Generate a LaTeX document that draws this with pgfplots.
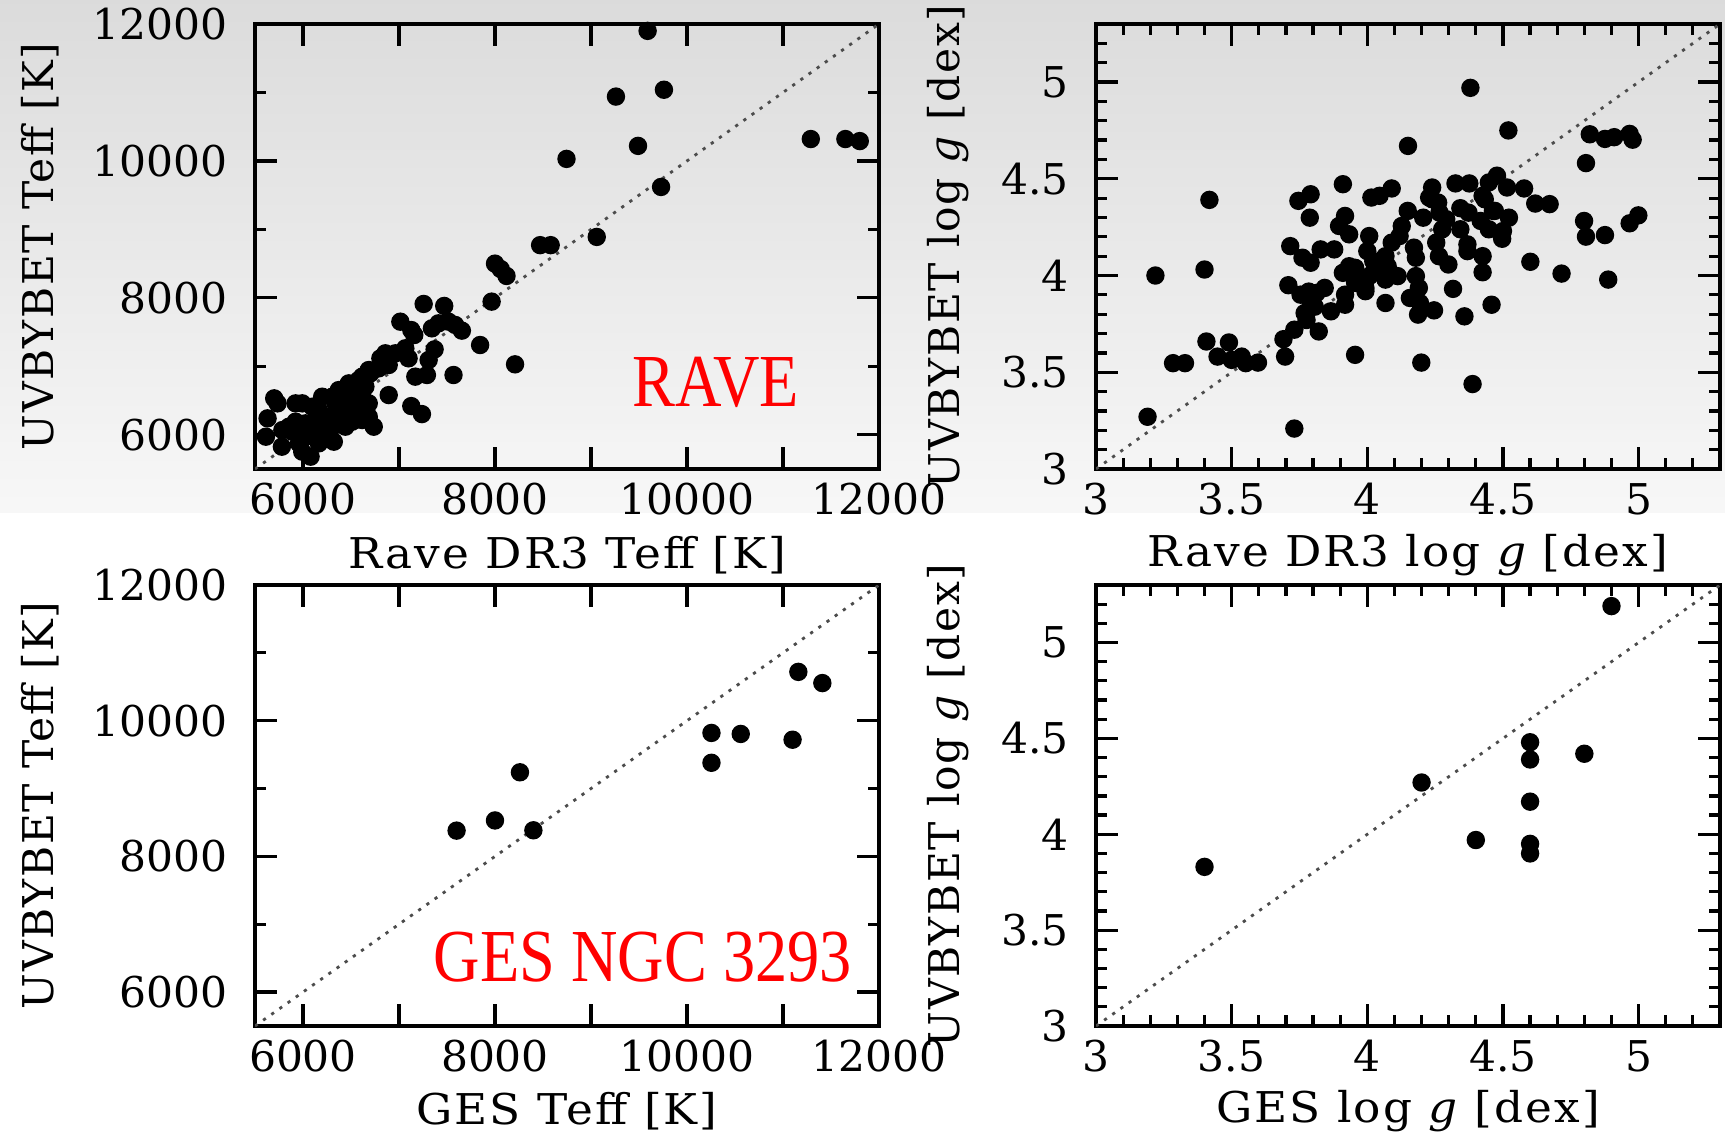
\documentclass[border=0pt]{standalone}
\usepackage{pgfplots}
\pgfplotsset{compat=1.18}
\usepackage{fontspec}
\setmainfont{DejaVu Serif}
\newfontfamily\tickfont{DejaVu Serif}
\newfontfamily\labfont{DejaVu Serif}[LetterSpace=4]
\newfontfamily\xlabfont{DejaVu Serif}[LetterSpace=5, FakeStretch=1.07]
\newfontfamily\redfont{Liberation Serif}[FakeStretch=0.86]

\pgfplotsset{
  panel/.style={
    scale only axis, width=156pt,
    axis line style={line width=0.8pt},
    tick align=inside,
    major tick length=5.5pt, minor tick length=2.8pt,
    tick style={black, line width=0.8pt},
    ticklabel style={font=\tickfont\fontsize{10.6}{12}\selectfont},
    yticklabel style={xshift=-3.3pt},
    ylabel style={font=\labfont\fontsize{10.6}{12}\selectfont},
    xlabel style={font=\xlabfont\fontsize{10.6}{12}\selectfont,
      at={(axis description cs:0.5,-0.193)}, anchor=center},
    scaled ticks=false,
  },
  teff/.style={
    xmin=5500, xmax=12000, ymin=5500, ymax=12000,
    xtick={6000,7000,8000,9000,10000,11000,12000},
    xticklabels={6000,,8000,,10000,,12000},
    ytick={6000,8000,10000,12000},
    yticklabels={6000,8000,10000,12000},
    minor ytick={7000,9000,11000},
    ylabel style={at={(axis description cs:-0.345,0.5)}, anchor=center},
  },
  logg/.style={
    xmin=3, xmax=5.3, ymin=3, ymax=5.3,
    xtick={3,3.5,4,4.5,5}, xticklabels={3,3.5,4,4.5,5},
    ytick={3,3.5,4,4.5,5}, yticklabels={3,3.5,4,4.5,5},
    minor xtick={3.1,3.2,3.3,3.4,3.6,3.7,3.8,3.9,4.1,4.2,4.3,4.4,4.6,4.7,4.8,4.9,5.1,5.2},
    minor ytick={3.1,3.2,3.3,3.4,3.6,3.7,3.8,3.9,4.1,4.2,4.3,4.4,4.6,4.7,4.8,4.9,5.1,5.2},
    ylabel style={at={(axis description cs:-0.2376,0.5)}, anchor=center},
  },
  dots/.style={only marks, mark=*, mark size=2.1pt, black, mark options={draw=black, fill=black}},
  diag/.style={black!70, line width=0.7pt, dash pattern=on 0.8pt off 1.7pt},
}

\begin{document}
\begin{tikzpicture}
\useasboundingbox (0,0) rectangle (431.25pt,284.5pt);
\shade[top color=black!14, bottom color=black!3] (0,156.5pt) rectangle (431.25pt,284.5pt);

% RAVE Teff
\begin{axis}[panel, teff, at={(63.75pt,167.25pt)}, anchor=south west, height=111.25pt,
  xlabel={Rave DR3 Teff [K]}, ylabel={UVBYBET Teff [K]}]
\addplot[diag] coordinates {(5500,5500) (12000,12000)};
\addplot[dots] coordinates {
(9590,11900) (9260,10940) (9760,11040) (11290,10320) (11650,10320) (11800,10290)
(9490,10220) (8745,10030) (9730,9620) (9060,8890) (8470,8770) (8580,8770)
(8000,8500) (8060,8420) (8120,8320) (7965,7945) (7257,7911) (7471,7882)
(7014,7652) (7128,7530) (7159,7457) (7343,7555) (7412,7628) (7516,7652)
(7585,7604) (7655,7521) (7845,7311) (8209,7029) (7371,7248) (7309,7092)
(7291,6873) (7170,6849) (7568,6873) (7100,7117) (7066,7263) (6962,7190)
(6858,7190) (6806,7117) (6685,6946) (6616,6849) (6702,6897) (6789,6970)
(6893,7019) (6650,6703) (6511,6605) (6616,6556) (6442,6483) (6893,6580)
(7128,6419) (7239,6302) (6737,6118) (6616,6215) (6511,6313) (6373,6410)
(6304,6556) (6200,6556) (6165,6361) (6096,6410) (5992,6459) (5923,6459)
(5923,6191) (5854,6118) (5785,6069) (5700,6532) (5735,6459) (5631,6240)
(5614,5972) (5780,5826) (5992,5753) (6079,5680) (6027,5972) (6096,6069)
(6235,6118) (6321,5899) (6339,6142) (6442,6118) (6442,6264) (6546,6459)
(6581,6361) (6165,5875) (5958,5875) (6200,6021) (6373,6653) (6477,6751)
(6581,6800) (6408,6313) (6269,6264) (6339,6459) (5888,6045) (6027,6167)
(6131,6215) (6685,6459) (6685,6264) (6511,6191)
};
\node[font=\redfont\fontsize{18.7}{20}\selectfont, text=red] at (axis cs:10300,6760) {RAVE};
\end{axis}

% RAVE log g
\begin{axis}[panel, logg, at={(274pt,167.25pt)}, anchor=south west, height=111.25pt,
  xlabel={Rave DR3 log {\itshape g} [dex]}, ylabel={UVBYBET log {\itshape g} [dex]}]
\addplot[diag] coordinates {(3,3) (5.3,5.3)};
\addplot[dots] coordinates {
(4.38,4.97) (4.52,4.75) (4.15,4.67) (4.82,4.73) (4.876,4.706) (4.91,4.715)
(4.967,4.732) (4.978,4.702) (4.806,4.581) (3.418,4.391) (3.219,4.00) (3.40,4.031)
(3.19,3.27) (3.731,3.209) (4.388,3.439) (4.199,3.55) (3.955,3.59) (3.697,3.581)
(3.691,3.671) (3.731,3.72) (3.407,3.659) (3.49,3.654) (3.284,3.547) (3.328,3.547)
(3.448,3.581) (3.50,3.564) (3.537,3.581) (3.552,3.547) (3.597,3.55) (3.821,3.711)
(3.769,3.806) (3.791,3.867) (3.813,3.91) (3.843,3.936) (3.709,3.95) (3.754,3.901)
(3.866,3.815) (3.918,3.849) (3.918,3.901) (3.91,4.014) (3.933,4.048) (3.955,3.962)
(3.993,3.936) (4.007,3.997) (4.067,3.979) (4.112,3.997) (4.179,3.997) (4.19,3.936)
(4.157,3.884) (4.194,3.858) (4.187,3.798) (4.067,3.858) (4.246,3.82) (4.358,3.789)
(4.316,3.931) (4.458,3.849) (4.425,4.017) (4.425,4.10) (4.601,4.071) (4.716,4.01)
(4.888,3.979) (4.799,4.282) (4.806,4.201) (4.876,4.209) (4.967,4.27) (4.999,4.311)
(4.619,4.372) (4.672,4.369) (4.578,4.45) (4.478,4.516) (4.515,4.455) (4.448,4.481)
(4.425,4.412) (4.376,4.476) (4.325,4.476) (4.239,4.455) (4.228,4.403) (4.261,4.377)
(4.343,4.348) (4.373,4.325) (4.47,4.334) (4.522,4.299) (4.50,4.23) (4.497,4.19)
(4.448,4.239) (4.343,4.239) (4.369,4.161) (4.369,4.126) (4.276,4.239) (4.254,4.17)
(4.291,4.291) (4.264,4.10) (4.299,4.057) (4.206,4.299) (4.149,4.334) (4.127,4.256)
(4.119,4.204) (4.09,4.17) (4.067,4.10) (4.075,4.048) (4.172,4.144) (4.179,4.092)
(4.007,4.204) (4.00,4.126) (4.022,4.074) (3.933,4.213) (3.896,4.256) (3.918,4.308)
(4.015,4.403) (4.045,4.412) (4.09,4.45) (3.91,4.472) (3.746,4.386) (3.791,4.42)
(3.788,4.299) (3.716,4.152) (3.828,4.135) (3.878,4.135) (3.761,4.092) (3.791,4.066)
(4.239,4.394) (4.266,4.325) (4.433,4.394) (4.463,4.334) (4.418,4.282) (3.993,3.919)
(4.022,4.014) (3.955,4.04) (3.784,3.917) (3.806,3.839) (3.776,3.77)
};
\end{axis}

% GES Teff
\begin{axis}[panel, teff, at={(63.75pt,28pt)}, anchor=south west, height=110.25pt,
  xlabel={GES Teff [K]}, ylabel={UVBYBET Teff [K]}]
\addplot[diag] coordinates {(5500,5500) (12000,12000)};
\addplot[dots] coordinates {
(7600,8380) (8000,8530) (8400,8385) (8260,9240) (10255,9820) (10255,9380)
(10560,9805) (11100,9720) (11160,10720) (11410,10555)
};
\node[font=\redfont\fontsize{18.7}{20}\selectfont, text=red] at (axis cs:9540,6517) {GES NGC 3293};
\end{axis}

% GES log g
\begin{axis}[panel, logg, at={(274pt,28pt)}, anchor=south west, height=110.25pt,
  xlabel={GES log {\itshape g} [dex]}, ylabel={UVBYBET log {\itshape g} [dex]}]
\addplot[diag] coordinates {(3,3) (5.3,5.3)};
\addplot[dots] coordinates {
(4.90,5.19) (4.60,4.48) (4.60,4.39) (4.80,4.42) (4.20,4.27) (4.60,4.17)
(4.40,3.97) (4.60,3.95) (4.60,3.90) (3.40,3.83)
};
\end{axis}
\end{tikzpicture}
\end{document}
